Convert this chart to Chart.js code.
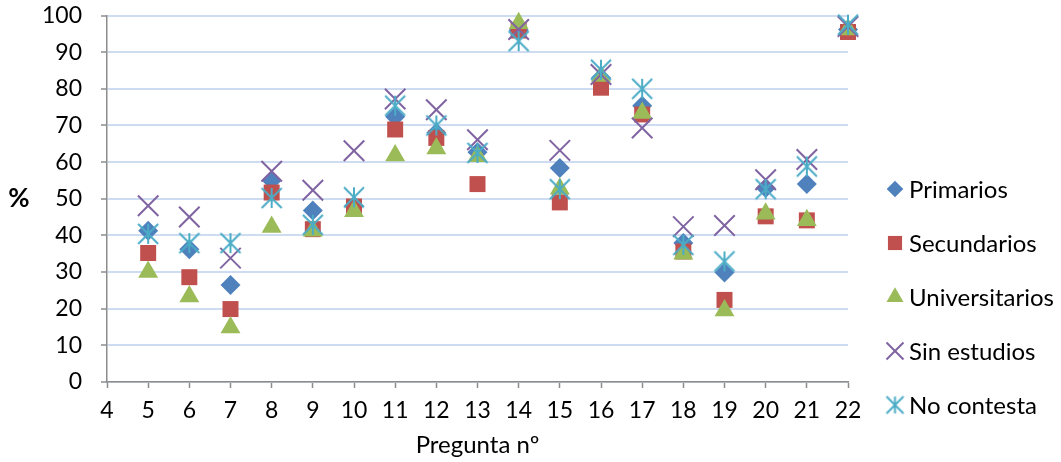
<!DOCTYPE html>
<html>
<head>
<meta charset="utf-8">
<title>Pregunta nº</title>
<script src="https://cdn.jsdelivr.net/npm/chart.js@4.4.1/dist/chart.umd.min.js"></script>
<style>
  html, body { margin: 0; padding: 0; background: #fff; }
  #wrap { width: 1061px; height: 462px; }
</style>
</head>
<body>
<div id="wrap"><canvas id="chart" width="1061" height="462"></canvas></div>
<script>
// --- datos ---
const preguntas = [5, 6, 7, 8, 9, 10, 11, 12, 13, 14, 15, 16, 17, 18, 19, 20, 21, 22];
const primarios      = [41.3, 36.2, 26.5, 55.0, 46.8, 48.0, 72.4, 68.0, 62.7, 96.0, 58.4, 83.0, 75.4, 37.9, 29.9, 52.9, 54.0, 96.2];
const secundarios    = [35.2, 28.6, 19.9, 51.7, 41.7, 47.9, 68.9, 66.6, 54.0, 95.9, 49.0, 80.3, 73.0, 35.6, 22.4, 45.2, 44.1, 95.5];
const universitarios = [30.0, 23.3, 14.9, 42.3, 41.3, 46.6, 61.8, 63.7, 61.6, 97.9, 52.7, 83.5, 73.4, 35.0, 19.5, 45.9, 44.1, 96.2];
const sinEstudios    = [48.1, 45.0, 33.8, 57.5, 52.3, 63.1, 77.2, 74.3, 66.1, 96.2, 63.2, 83.9, 69.3, 42.4, 42.7, 55.2, 60.7, 97.0];
const noContesta     = [40.4, 37.9, 37.9, 50.2, 42.9, 50.4, 75.4, 70.0, 62.5, 93.0, 52.6, 85.2, 80.0, 37.4, 32.9, 52.6, 58.8, 97.5];

const seriesNames = ['Primarios', 'Secundarios', 'Universitarios', 'Sin estudios', 'No contesta'];
const seriesValues = [primarios, secundarios, universitarios, sinEstudios, noContesta];
const xTitle = 'Pregunta nº';
const yTitle = '%';

// --- estilo ---
const FONT = 'Lato, "Liberation Sans", sans-serif';
const colors = ['#4F81BD', '#C0504D', '#9BBB59', '#8064A2', '#4BACC6'];
const AXIS = '#8c8c8c';

// marcador "estrella": aspa + trazo vertical
function makeStar(half, color) {
  const size = Math.ceil(half * 2 + 4);
  const c = document.createElement('canvas');
  c.width = size; c.height = size;
  const g = c.getContext('2d');
  const m = size / 2;
  g.strokeStyle = color;
  g.lineWidth = 2;
  g.beginPath();
  g.moveTo(m - half, m - half); g.lineTo(m + half, m + half);
  g.moveTo(m - half, m + half); g.lineTo(m + half, m - half);
  g.moveTo(m, m - half); g.lineTo(m, m + half);
  g.stroke();
  return c;
}

const markers = [
  { pointStyle: 'rectRot', radius: 10, borderWidth: 0 },
  { pointStyle: 'rect', radius: 11.3, borderWidth: 0 },
  { pointStyle: 'triangle', radius: 11.5, borderWidth: 0 },
  { pointStyle: 'crossRot', radius: 14.5, borderWidth: 2 },
  { pointStyle: makeStar(10, colors[4]), radius: 10, borderWidth: 0 }
];
const legendMarkers = [
  { pointStyle: 'rectRot', radius: 8.3, borderWidth: 0 },
  { pointStyle: 'rect', radius: 10, borderWidth: 0 },
  { pointStyle: 'triangle', radius: 9.8, borderWidth: 0 },
  { pointStyle: 'crossRot', radius: 12, borderWidth: 2 },
  { pointStyle: makeStar(8.5, colors[4]), radius: 8.5, borderWidth: 0 }
];

const datasets = seriesNames.map((name, i) => ({
  label: name,
  data: preguntas.map((x, j) => ({ x: x, y: seriesValues[i][j] })),
  backgroundColor: colors[i],
  borderColor: colors[i],
  pointStyle: markers[i].pointStyle,
  pointRadius: markers[i].radius,
  pointBorderWidth: markers[i].borderWidth,
  pointHoverRadius: markers[i].radius,
  order: seriesNames.length - i, // la última serie queda encima
  clip: false
}));

// título del eje Y (horizontal) y leyenda a la derecha
const extras = {
  id: 'extras',
  afterDraw(chart) {
    const ctx = chart.ctx;
    const area = chart.chartArea;
    ctx.save();
    ctx.fillStyle = '#000';
    ctx.textAlign = 'center';
    ctx.textBaseline = 'middle';
    ctx.font = 'bold 26px ' + FONT;
    ctx.fillText(yTitle, 19, (area.top + area.bottom) / 2);

    const mx = area.right + 47;
    const tx = area.right + 61;
    seriesNames.forEach((name, i) => {
      const y = 189 + i * 54;
      const m = legendMarkers[i];
      ctx.fillStyle = colors[i];
      ctx.strokeStyle = colors[i];
      ctx.lineWidth = m.borderWidth;
      Chart.helpers.drawPoint(ctx, { pointStyle: m.pointStyle, radius: m.radius, rotation: 0, borderWidth: m.borderWidth }, mx, y);
      ctx.fillStyle = '#000';
      ctx.textAlign = 'left';
      ctx.font = '24px ' + FONT;
      ctx.fillText(name, tx, y + 1);
    });
    ctx.restore();
  }
};

new Chart(document.getElementById('chart'), {
  type: 'scatter',
  data: { datasets: datasets },
  plugins: [extras],
  options: {
    responsive: false,
    animation: false,
    layout: { autoPadding: false, padding: { top: 0, right: 213, bottom: 0, left: 0 } },
    plugins: {
      legend: { display: false },
      tooltip: { enabled: false }
    },
    scales: {
      x: {
        type: 'linear',
        min: 4,
        max: 22,
        ticks: { stepSize: 1, autoSkip: false, maxRotation: 0, color: '#000', padding: 9, font: { family: FONT, size: 23 } },
        grid: { drawOnChartArea: false, tickLength: 6, tickColor: AXIS, tickWidth: 1.5 },
        border: { color: AXIS, width: 1.5 },
        title: { display: true, text: xTitle, color: '#000', font: { family: FONT, size: 24 }, padding: { top: 0, bottom: 2 } },
        afterFit(scale) { scale.height = 80; }
      },
      y: {
        min: 0,
        max: 100,
        ticks: { stepSize: 10, color: '#000', padding: 19, font: { family: FONT, size: 23 } },
        grid: { color: '#cddcf0', lineWidth: 2, tickLength: 6, tickColor: AXIS, tickWidth: 1.5 },
        border: { color: AXIS, width: 1.5 },
        afterFit(scale) { scale.width = 107; scale.paddingTop = 15.5; }
      }
    }
  }
});
</script>
</body>
</html>
